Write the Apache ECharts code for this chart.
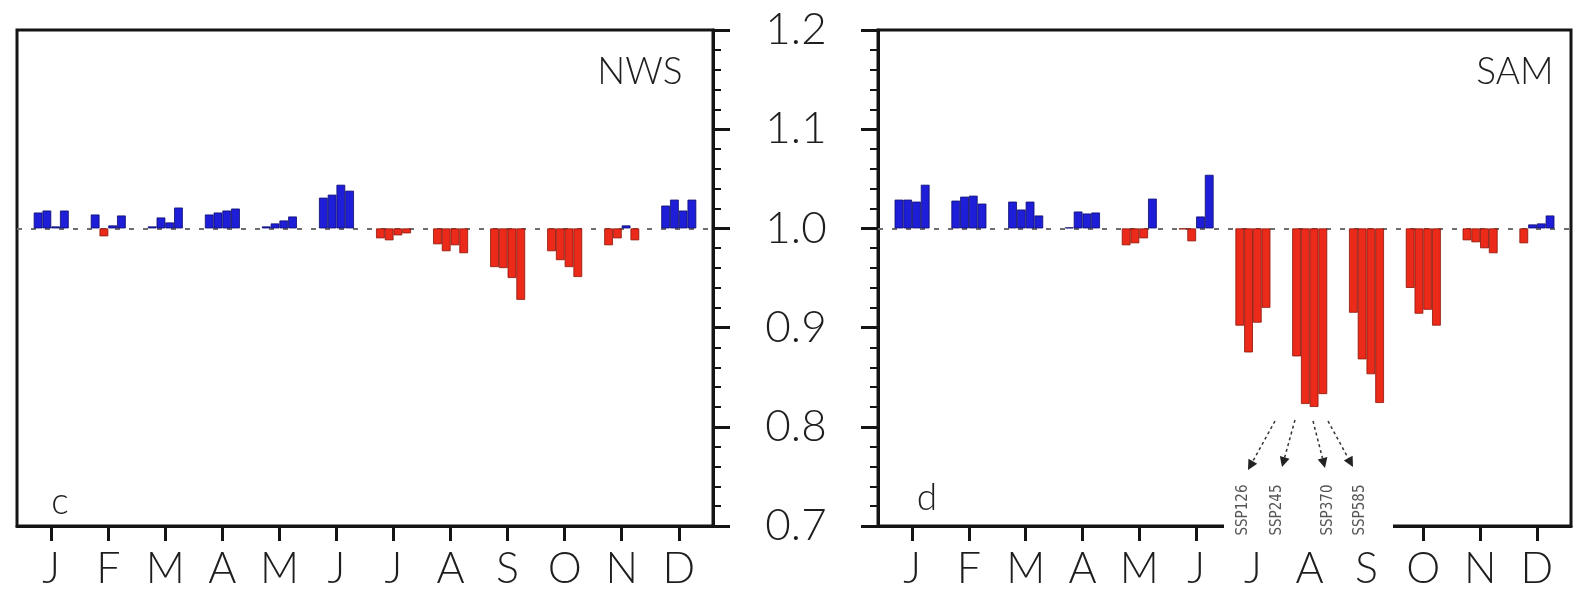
<!DOCTYPE html>
<html><head><meta charset="utf-8">
<script src="https://cdn.jsdelivr.net/npm/echarts@6/dist/echarts.min.js"></script>
<style>html,body{margin:0;padding:0;background:#fff;} #c{width:1586px;height:595px;}</style>
</head><body><div id="c"></div>
<script>
// ---------- data ----------
const months = ['J','F','M','A','M','J','J','A','S','O','N','D'];
const scenarios = ['SSP126','SSP245','SSP370','SSP585'];
const yTicks = [0.7, 0.8, 0.9, 1.0, 1.1, 1.2];
const yTickLabels = ['0.7','0.8','0.9','1.0','1.1','1.2'];
const panelNames = ['NWS','SAM'];
const panelLetters = ['c','d'];

// NWS panel (ratio), one array per scenario, Jan..Dec
const nwsSSP126 = [1.016, 1.014, 1.002, 1.014, 1.002, 1.031, 0.990, 0.984, 0.961, 0.977, 0.983, 1.023];
const nwsSSP245 = [1.018, 0.992, 1.011, 1.016, 1.005, 1.034, 0.988, 0.977, 0.960, 0.968, 0.990, 1.029];
const nwsSSP370 = [1.002, 1.003, 1.006, 1.018, 1.008, 1.044, 0.993, 0.983, 0.950, 0.961, 1.003, 1.018];
const nwsSSP585 = [1.018, 1.013, 1.021, 1.020, 1.012, 1.038, 0.995, 0.975, 0.928, 0.951, 0.988, 1.029];

// SAM panel
const samSSP126 = [1.029, 1.028, 1.027, 1.001, 0.983, 0.999, 0.902, 0.871, 0.915, 0.940, 0.988, 0.985];
const samSSP245 = [1.029, 1.032, 1.019, 1.017, 0.985, 0.987, 0.875, 0.823, 0.868, 0.914, 0.986, 1.004];
const samSSP370 = [1.027, 1.033, 1.027, 1.015, 0.990, 1.012, 0.905, 0.820, 0.853, 0.918, 0.980, 1.005];
const samSSP585 = [1.044, 1.025, 1.013, 1.016, 1.030, 1.054, 0.920, 0.833, 0.824, 0.902, 0.975, 1.013];

const baseline = 1.0;

// ---------- styles ----------
const FONT = 'Lato, "DejaVu Sans", sans-serif';
const INK = '#141414';
const TXT = '#1e1e1e';
const BLUE = '#1e1ed8', BLUE_EDGE = '#0c0c6e';
const RED = '#ec2a1a', RED_EDGE = '#8a1408';

const panels = [
  [nwsSSP126, nwsSSP245, nwsSSP370, nwsSSP585],
  [samSSP126, samSSP245, samSSP370, samSSP585]
];
const monthPos = months.map((m, i) => i + 1);

const chart = echarts.init(document.getElementById('c'), null, {renderer: 'canvas'});

const grids = [
  {left: 17, top: 30, width: 696, height: 496},
  {left: 878, top: 30, width: 693, height: 496}
].map(g => Object.assign(g, {show: true, borderColor: INK, borderWidth: 3, backgroundColor: 'transparent', containLabel: false, outerBoundsMode: 'none'}));

const xAxes = [0, 1].map(i => ({
  type: 'value', gridIndex: i, min: 0.4, max: 12.6,
  axisLine: {show: true, lineStyle: {color: INK, width: 3}},
  axisTick: {show: true, inside: false, length: 15, customValues: monthPos, lineStyle: {color: INK, width: 3}},
  axisLabel: {show: true, customValues: monthPos, margin: 22, fontSize: 43, fontWeight: 300, fontFamily: FONT, color: TXT,
    formatter: v => months[Math.round(v) - 1]},
  splitLine: {show: false}, minorTick: {show: false}
}));

const yLabelFmt = v => yTickLabels[yTicks.findIndex(t => Math.abs(t - v) < 1e-6)];
const yAxes = [0, 1].map(i => ({
  type: 'value', gridIndex: i, position: i === 0 ? 'right' : 'left',
  min: 0.7, max: 1.2, interval: 0.1, startValue: baseline,
  axisLine: {show: true, lineStyle: {color: INK, width: 3}},
  axisTick: {show: true, inside: false, length: 17, lineStyle: {color: INK, width: 3}},
  minorTick: {show: true, splitNumber: 5, length: 8, lineStyle: {color: INK, width: 2}},
  axisLabel: i === 0 ? {show: false} : {show: true, formatter: yLabelFmt, align: 'center', margin: 82,
    fontSize: 44, fontWeight: 300, fontFamily: FONT, color: TXT},
  splitLine: {show: false}
}));

const series = [];
panels.forEach((arrs, p) => {
  arrs.forEach((vals, s) => {
    const ser = {
      type: 'bar', name: scenarios[s], xAxisIndex: p, yAxisIndex: p,
      barWidth: 8.75, barGap: '0%', z: 3,
      data: vals.map((v, i) => ({
        value: [i + 1, v],
        itemStyle: {color: v >= baseline ? BLUE : RED, borderColor: v >= baseline ? BLUE_EDGE : RED_EDGE, borderWidth: 0.8}
      }))
    };
    if (s === 0) {
      ser.markLine = {silent: true, symbol: 'none', z: 1, label: {show: false},
        lineStyle: {color: '#6e6e6e', width: 2, type: [5, 9]},
        data: [{yAxis: baseline}]};
    }
    series.push(ser);
  });
});

// annotation helpers
function arrow(x1, y1, x2, y2) {
  const dx = x2 - x1, dy = y2 - y1, L = Math.hypot(dx, dy);
  const ux = dx / L, uy = dy / L, hl = 10, hw = 5;
  const bx = x2 - ux * hl, by = y2 - uy * hl;
  return [
    {type: 'line', z: 101, shape: {x1, y1, x2: bx, y2: by}, style: {stroke: '#333', lineWidth: 1.5, lineDash: [3, 3]}},
    {type: 'polygon', z: 101, shape: {points: [[x2, y2], [bx - uy * hw, by + ux * hw], [bx + uy * hw, by - ux * hw]]}, style: {fill: '#222'}}
  ];
}

const titleStyle = {align: 'center', verticalAlign: 'middle', fontSize: 37, fontWeight: 300, fontFamily: FONT, fill: TXT};
const graphics = [
  {type: 'text', z: 50, x: 640, y: 72, style: Object.assign({text: panelNames[0]}, titleStyle)},
  {type: 'text', z: 50, x: 1515, y: 72, style: Object.assign({text: panelNames[1]}, titleStyle)},
  {type: 'text', z: 50, x: 60, y: 502, style: Object.assign({text: panelLetters[0]}, titleStyle)},
  {type: 'text', z: 50, x: 927, y: 498, style: Object.assign({text: panelLetters[1]}, titleStyle)},
  {type: 'rect', z: 100, shape: {x: 1224, y: 412, width: 169, height: 136}, style: {fill: '#ffffff'}},
  ...arrow(1275, 421, 1248, 470),
  ...arrow(1295, 420, 1282, 467),
  ...arrow(1313, 421, 1325, 468),
  ...arrow(1328, 421, 1353, 467)
];
[1243, 1277, 1328, 1360].forEach((x, k) => {
  graphics.push({type: 'text', z: 102, x: x, y: 510, rotation: Math.PI / 2,
    style: {text: scenarios[k], align: 'center', verticalAlign: 'middle', fontSize: 15,
      fontFamily: '"DejaVu Sans Condensed", "Liberation Sans Narrow", sans-serif', fill: '#555'}});
});

chart.setOption({
  animation: false,
  backgroundColor: '#ffffff',
  grid: grids,
  xAxis: xAxes,
  yAxis: yAxes,
  series: series,
  graphic: {elements: graphics}
});
</script></body></html>
